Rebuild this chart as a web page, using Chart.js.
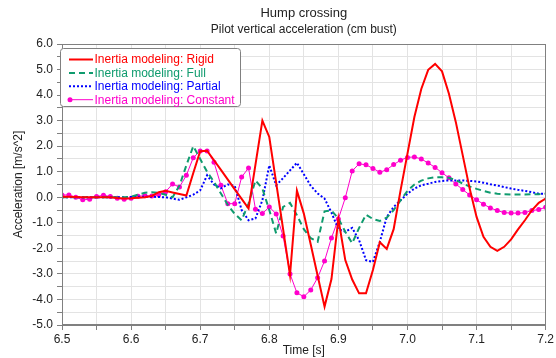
<!DOCTYPE html>
<html>
<head>
<meta charset="utf-8">
<script src="https://cdn.jsdelivr.net/npm/chart.js@4/dist/chart.umd.min.js"></script>
<style>
  body { margin: 0; background: #fff; }
  canvas { display: block; }
</style>
</head>
<body>
<canvas id="chart" width="556" height="358"></canvas>
<script>
const times = [
  6.50, 6.51, 6.52, 6.53, 6.54, 6.55, 6.56, 6.57, 6.58, 6.59,
  6.60, 6.61, 6.62, 6.63, 6.64, 6.65, 6.66, 6.67, 6.68, 6.69,
  6.70, 6.71, 6.72, 6.73, 6.74, 6.75, 6.76, 6.77, 6.78, 6.79,
  6.80, 6.81, 6.82, 6.83, 6.84, 6.85, 6.86, 6.87, 6.88, 6.89,
  6.90, 6.91, 6.92, 6.93, 6.94, 6.95, 6.96, 6.97, 6.98, 6.99,
  7.00, 7.01, 7.02, 7.03, 7.04, 7.05, 7.06, 7.07, 7.08, 7.09,
  7.10, 7.11, 7.12, 7.13, 7.14, 7.15, 7.16, 7.17, 7.18, 7.19,
  7.20
];

const rigid = [
  0.02, 0.02, 0.01, 0.00, 0.00, 0.00, 0.00, 0.00, -0.03, -0.05,
  -0.04, -0.02, 0.00, 0.05, 0.20, 0.25, 0.19, 0.13, 0.07, 0.95,
  1.80, 1.82, 1.45, 1.07, 0.69, 0.31, -0.06, -0.44, 1.28, 3.00,
  2.36, 0.56, -1.25, -3.05, 0.26, -0.64, -1.85, -3.07, -4.28, -3.20,
  -0.85, -2.46, -3.22, -3.76, -3.76, -2.85, -1.76, -2.02, -1.25, 0.27,
  1.71, 3.14, 4.24, 4.99, 5.22, 4.93, 4.05, 2.94, 1.64, 0.34,
  -0.77, -1.55, -1.94, -2.10, -1.94, -1.65, -1.26, -0.90, -0.51, -0.22,
  -0.05
];

const full = [
  0.00, 0.00, 0.00, 0.00, 0.00, 0.00, 0.00, 0.00, 0.00, 0.00,
  0.02, 0.10, 0.18, 0.20, 0.17, 0.10, 0.00, 0.45, 1.25, 2.00,
  1.50, 1.00, 0.60, 0.15, -0.30, -0.65, -0.90, -0.25, 0.66, 0.34,
  -0.50, -1.42, -0.38, -0.22, -0.70, -1.25, -1.60, -1.74, -0.55, -0.52,
  -0.83, -1.35, -1.80, -1.20, -0.68, -0.85, -0.93, -0.80, -0.50, -0.12,
  0.25, 0.50, 0.65, 0.74, 0.78, 0.78, 0.76, 0.67, 0.54, 0.42,
  0.33, 0.25, 0.18, 0.14, 0.12, 0.11, 0.11, 0.11, 0.12, 0.12,
  0.14
];

const partial = [
  0.00, 0.00, 0.00, 0.00, 0.00, 0.00, 0.00, 0.00, 0.00, 0.00,
  0.01, 0.02, 0.02, 0.02, 0.01, 0.00, -0.05, -0.10, 0.00, 0.10,
  0.27, 0.86, 0.50, 0.35, 0.50, 0.45, -0.50, -0.90, -0.83, -0.12,
  1.25, 0.47, 0.75, 1.05, 1.35, 0.90, 0.45, 0.15, -0.05, -0.60,
  -1.25, -1.35, -1.20, -1.68, -2.46, -2.53, -1.74, -0.77, -0.38, -0.12,
  0.14, 0.34, 0.47, 0.53, 0.60, 0.64, 0.66, 0.66, 0.66, 0.64,
  0.62, 0.57, 0.51, 0.46, 0.40, 0.34, 0.29, 0.25, 0.20, 0.14,
  0.14
];

const constant = [
  0.09, 0.09, 0.00, -0.10, -0.08, 0.03, 0.08, 0.03, -0.04, -0.08,
  -0.04, 0.04, 0.06, 0.05, 0.10, 0.22, 0.52, 0.40, 0.86, 1.55,
  1.81, 1.81, 1.37, 0.47, -0.25, -0.25, 0.79, 1.15, -0.47, -0.64,
  -0.38, -0.65, -1.52, -3.00, -3.74, -3.89, -3.63, -3.15, -2.49, -1.59,
  -0.85, -0.02, 1.03, 1.31, 1.27, 1.13, 0.98, 1.08, 1.28, 1.45,
  1.56, 1.58, 1.50, 1.34, 1.17, 0.96, 0.76, 0.52, 0.30, 0.09,
  -0.10, -0.27, -0.42, -0.52, -0.60, -0.62, -0.62, -0.60, -0.52, -0.48,
  -0.39
];

const xTicks = [6.5, 6.55, 6.6, 6.65, 6.7, 6.75, 6.8, 6.85, 6.9, 6.95, 7.0, 7.05, 7.1, 7.15, 7.2];
const yTicks = [-5, -4.5, -4, -3.5, -3, -2.5, -2, -1.5, -1, -0.5, 0, 0.5, 1, 1.5, 2, 2.5, 3, 3.5, 4, 4.5, 5, 5.5, 6];

const seriesNames = [
  'Inertia modeling: Rigid',
  'Inertia modeling: Full',
  'Inertia modeling: Partial',
  'Inertia modeling: Constant'
];

const FONT = '"Liberation Sans", Arial, sans-serif';
const RED = '#ff0000';
const GREEN = '#0f9b6e';
const BLUE = '#0000ff';
const PINK = '#ff00cc';

function pts(values) {
  return values.map((v, i) => ({ x: times[i], y: v }));
}

// frame around the plot + legend box in the upper left corner
const frameAndLegend = {
  id: 'frameAndLegend',
  afterDatasetsDraw(chart) {
    const { ctx, chartArea: a } = chart;
    ctx.save();
    ctx.strokeStyle = '#808080';
    ctx.lineWidth = 1;
    ctx.strokeRect(Math.round(a.left) + 0.5, Math.round(a.top) + 0.5,
      Math.round(a.right - a.left) - 1, Math.round(a.bottom - a.top) - 1);
    ctx.restore();
  },
  afterDraw(chart) {
    const ctx = chart.ctx;
    const bx = 60.5, by = 48.5, bw = 180, bh = 58;
    ctx.save();
    ctx.beginPath();
    ctx.roundRect(bx, by, bw, bh, 3);
    ctx.fillStyle = '#fff';
    ctx.fill();
    ctx.strokeStyle = '#808080';
    ctx.lineWidth = 1;
    ctx.stroke();

    ctx.font = '12px ' + FONT;
    ctx.textBaseline = 'middle';
    chart.data.datasets.forEach((ds, i) => {
      const y = 59.5 + i * 13.4;
      ctx.strokeStyle = ds.borderColor;
      ctx.lineWidth = ds.borderWidth;
      ctx.setLineDash(ds.borderDash || []);
      ctx.beginPath();
      ctx.moveTo(69, y);
      ctx.lineTo(93, y);
      ctx.stroke();
      ctx.setLineDash([]);
      if (ds.pointRadius > 0) {
        ctx.fillStyle = ds.pointBackgroundColor;
        ctx.beginPath();
        ctx.arc(70, y, ds.pointRadius, 0, Math.PI * 2);
        ctx.fill();
      }
      ctx.fillStyle = ds.borderColor;
      ctx.fillText(ds.label, 94.5, y + 0.5);
    });
    ctx.restore();
  }
};

const ctx = document.getElementById('chart').getContext('2d');
new Chart(ctx, {
  type: 'line',
  data: {
    datasets: [
      {
        label: seriesNames[0], data: pts(rigid),
        borderColor: RED, borderWidth: 2, pointRadius: 0, tension: 0
      },
      {
        label: seriesNames[1], data: pts(full),
        borderColor: GREEN, borderWidth: 2, borderDash: [6, 4], pointRadius: 0, tension: 0
      },
      {
        label: seriesNames[2], data: pts(partial),
        borderColor: BLUE, borderWidth: 2, borderDash: [2, 2], pointRadius: 0, tension: 0
      },
      {
        label: seriesNames[3], data: pts(constant),
        borderColor: PINK, borderWidth: 1, pointRadius: 2.5,
        pointBackgroundColor: PINK, pointBorderWidth: 0, tension: 0
      }
    ]
  },
  options: {
    responsive: false,
    animation: false,
    layout: { padding: { left: 0, right: 0, top: 0, bottom: 0 } },
    plugins: {
      legend: { display: false },
      tooltip: { enabled: false },
      title: {
        display: true, fullSize: false,
        text: 'Hump crossing',
        color: '#222',
        font: { family: FONT, size: 13, weight: 'normal' },
        padding: { top: 6, bottom: 1 }
      },
      subtitle: {
        display: true, fullSize: false,
        text: 'Pilot vertical acceleration (cm bust)',
        color: '#222',
        font: { family: FONT, size: 12, weight: 'normal' },
        padding: { top: 0, bottom: 7 }
      }
    },
    scales: {
      x: {
        type: 'linear', min: 6.5, max: 7.2,
        afterBuildTicks: s => { s.ticks = xTicks.map(v => ({ value: v })); },
        afterFit: s => { s.height = 33; },
        ticks: {
          autoSkip: false, maxRotation: 0, padding: 2, color: '#222',
          font: { family: FONT, size: 12 },
          callback: v => (Math.round(v * 100) % 10 === 0 ? v.toFixed(1) : '')
        },
        grid: { color: '#e3e3e3', tickColor: '#808080', tickLength: 5 },
        border: { color: '#808080' },
        title: {
          display: true, text: 'Time [s]', color: '#222',
          font: { family: FONT, size: 12 }, padding: { top: 0, bottom: 0 }
        }
      },
      y: {
        min: -5, max: 6,
        afterBuildTicks: s => { s.ticks = yTicks.map(v => ({ value: v })); },
        afterFit: s => { s.width = 62; },
        ticks: {
          autoSkip: false, padding: 4, color: '#222',
          font: { family: FONT, size: 12 },
          callback: v => (Math.round(v * 10) % 10 === 0 ? v.toFixed(1) : '')
        },
        grid: { color: '#e3e3e3', tickColor: '#808080', tickLength: 5 },
        border: { color: '#808080' },
        title: {
          display: true, text: 'Acceleration [m/s^2]', color: '#222',
          font: { family: FONT, size: 12 }, padding: { top: 11, bottom: 0 }
        }
      }
    }
  },
  plugins: [frameAndLegend]
});
</script>
</body>
</html>
